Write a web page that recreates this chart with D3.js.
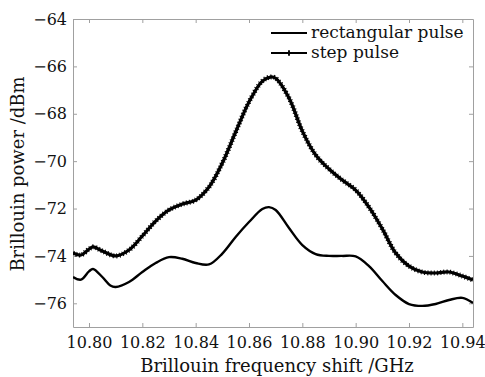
<!DOCTYPE html>
<html>
<head>
<meta charset="utf-8">
<script src="https://cdn.jsdelivr.net/npm/d3@7"></script>
</head>
<body style="margin:0">
<svg id="chart" width="485" height="377"></svg>
<script>
// ---- data ----
const seriesNames = ["rectangular pulse", "step pulse"];

const rectFreq = [10.794, 10.797, 10.800, 10.8015, 10.805, 10.808, 10.810, 10.815, 10.820, 10.825,
  10.830, 10.835, 10.840, 10.845, 10.850, 10.855, 10.860, 10.865, 10.8675, 10.870,
  10.875, 10.880, 10.885, 10.890, 10.895, 10.900, 10.905, 10.910, 10.915, 10.920,
  10.925, 10.930, 10.935, 10.940, 10.944];
const rectPower = [-74.89, -75.0, -74.65, -74.55, -74.89, -75.25, -75.31, -75.1, -74.68, -74.30,
  -74.05, -74.12, -74.3, -74.36, -73.9, -73.2, -72.57, -72.02, -71.94, -72.06,
  -72.82, -73.54, -73.92, -74.0, -74.0, -74.02, -74.43, -75.06, -75.65, -76.03,
  -76.11, -76.03, -75.86, -75.77, -75.99];

const stepFreq = [10.794, 10.797, 10.800, 10.8015, 10.805, 10.810, 10.815, 10.820, 10.825, 10.830,
  10.835, 10.840, 10.845, 10.850, 10.855, 10.860, 10.865, 10.868, 10.870, 10.875,
  10.880, 10.885, 10.890, 10.895, 10.900, 10.905, 10.910, 10.915, 10.920, 10.925,
  10.930, 10.935, 10.940, 10.944];
const stepPower = [-73.88, -73.96, -73.71, -73.62, -73.79, -74.0, -73.75, -73.16, -72.53, -72.06,
  -71.81, -71.64, -71.09, -70.08, -68.77, -67.5, -66.62, -66.45, -66.5, -67.33,
  -68.73, -69.74, -70.33, -70.80, -71.22, -71.94, -72.86, -73.88, -74.43, -74.68,
  -74.72, -74.68, -74.85, -75.02];

const xTicks = [10.80, 10.82, 10.84, 10.86, 10.88, 10.90, 10.92, 10.94];
const yTicks = [-76, -74, -72, -70, -68, -66, -64];
const xDomain = [10.794, 10.944];
const yDomain = [-77, -64];
const xTitle = "Brillouin frequency shift /GHz";
const yTitle = "Brillouin power /dBm";

// ---- layout ----
const W = 485, H = 377;
const m = { left: 73, top: 19, right: 12, bottom: 50 };
const iw = W - m.left - m.right, ih = H - m.top - m.bottom;
const FONT = '"DejaVu Serif", monospace';

const svg = d3.select("#chart");
const g = svg.append("g").attr("transform", `translate(${m.left},${m.top})`);

const x = d3.scaleLinear().domain(xDomain).range([0, iw]);
const y = d3.scaleLinear().domain(yDomain).range([ih, 0]);

const fmtY = d => (d < 0 ? "\u2212" : "") + Math.abs(d);
const axisColor = "#a0a0a0";

const gx = g.append("g").attr("transform", `translate(0,${ih})`)
  .call(d3.axisBottom(x).tickValues(xTicks).tickFormat(d3.format(".2f")).tickSizeInner(-4).tickSizeOuter(0).tickPadding(10));
const gy = g.append("g")
  .call(d3.axisLeft(y).tickValues(yTicks).tickFormat(fmtY).tickSizeInner(-4).tickSizeOuter(0).tickPadding(6));
const gt = g.append("g")
  .call(d3.axisTop(x).tickValues(xTicks).tickFormat("").tickSizeInner(-4).tickSizeOuter(0));
const gr = g.append("g").attr("transform", `translate(${iw},0)`)
  .call(d3.axisRight(y).tickValues(yTicks).tickFormat("").tickSizeInner(-4).tickSizeOuter(0));

[gx, gy, gt, gr].forEach(a => {
  a.selectAll("path.domain").attr("stroke", axisColor).attr("stroke-width", 1);
  a.selectAll(".tick line").attr("stroke", axisColor);
  a.selectAll(".tick text").attr("fill", "#111").style("font-family", FONT).style("font-size", "16px");
});

svg.append("text").attr("x", m.left + iw / 2 + 4).attr("y", 372)
  .attr("text-anchor", "middle").attr("fill", "#111")
  .style("font-family", FONT).style("font-size", "18px").text(xTitle);
svg.append("text").attr("transform", `translate(24,174) rotate(-90)`)
  .attr("text-anchor", "middle").attr("fill", "#111")
  .style("font-family", FONT).style("font-size", "18px").text(yTitle);

const rectData = rectFreq.map((f, i) => [f, rectPower[i]]);
const stepData = stepFreq.map((f, i) => [f, stepPower[i]]);
const line = d3.line().x(d => x(d[0])).y(d => y(d[1])).curve(d3.curveCatmullRom.alpha(0.5));

g.append("clipPath").attr("id", "clip").append("rect").attr("width", iw).attr("height", ih);
const plot = g.append("g").attr("clip-path", "url(#clip)");

plot.append("path").datum(rectData).attr("d", line)
  .attr("fill", "none").attr("stroke", "#000").attr("stroke-width", 2.4);
plot.append("path").datum(stepData).attr("d", line)
  .attr("fill", "none").attr("stroke", "#000").attr("stroke-width", 3.2);
plot.append("path").datum(stepData).attr("d", line)
  .attr("fill", "none").attr("stroke", "#000").attr("stroke-width", 5)
  .attr("stroke-dasharray", "1 2.2");

const leg = svg.append("g");
const legX1 = 271, legX2 = 307, legTextX = 311;
const legY = [33, 53];
leg.append("line").attr("x1", legX1).attr("x2", legX2).attr("y1", legY[0]).attr("y2", legY[0])
  .attr("stroke", "#000").attr("stroke-width", 2);
leg.append("line").attr("x1", legX1).attr("x2", legX2).attr("y1", legY[1]).attr("y2", legY[1])
  .attr("stroke", "#000").attr("stroke-width", 2);
leg.append("path").attr("d", d3.symbol(d3.symbolCross, 18)())
  .attr("transform", `translate(${(legX1 + legX2) / 2},${legY[1]})`).attr("fill", "#000");
seriesNames.forEach((n, i) => {
  leg.append("text").attr("x", legTextX).attr("y", legY[i]).attr("dy", "0.32em")
    .attr("fill", "#111").style("font-family", FONT).style("font-size", "17px").text(n);
});
</script>
</body>
</html>
